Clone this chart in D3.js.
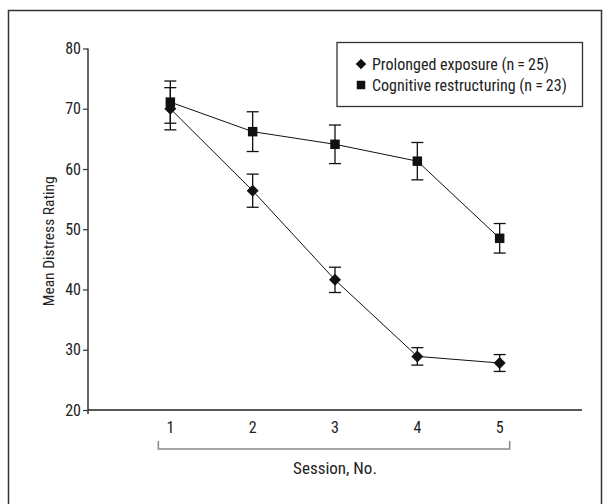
<!DOCTYPE html>
<html>
<head>
<meta charset="utf-8">
<script src="https://cdn.jsdelivr.net/npm/d3@7"></script>
<style>
  body { margin: 0; background: #fff; }
  text { font-family: "Liberation Sans Narrow", "Roboto Condensed", "Liberation Sans", sans-serif; fill: #222; }
</style>
</head>
<body>
<svg id="chart" width="610" height="504"></svg>
<script>
// data
var sessions = [1, 2, 3, 4, 5];
var yTicks = [20, 30, 40, 50, 60, 70, 80];

var peMean = [70.0, 56.4, 41.6, 28.9, 27.8];
var peErr  = [3.5, 2.75, 2.1, 1.45, 1.4];

var crMean = [71.1, 66.2, 64.1, 61.3, 48.5];
var crErr  = [3.5, 3.3, 3.2, 3.1, 2.45];

var seriesNames = ["Prolonged exposure (n\u2009=\u200925)", "Cognitive restructuring (n\u2009=\u200923)"];

var svg = d3.select("#chart");

// outer frame
svg.append("path")
    .attr("d", "M8.5,504 V10.5 H601.5 V504")
    .attr("fill", "none")
    .attr("stroke", "#333")
    .attr("stroke-width", 1.5);

// scales
var x = d3.scaleLinear().domain([0, 6]).range([88, 582]);
var y = d3.scaleLinear().domain([20, 80]).range([410, 48.5]);

// y axis
var yAxis = svg.append("g")
    .attr("transform", "translate(88,0)")
    .call(d3.axisLeft(y).tickValues(yTicks).tickSize(5).tickSizeOuter(0));
yAxis.select(".domain").attr("stroke", "#333").attr("stroke-width", 1.5)
    .attr("d", "M0," + y(80) + "V" + (y(20) + 4));
yAxis.selectAll(".tick line").attr("stroke", "#333").attr("stroke-width", 1.2);
yAxis.selectAll(".tick text").style("font-size", "16px").attr("x", -7);

// x axis line, labels only
svg.append("line")
    .attr("x1", 88).attr("x2", 582)
    .attr("y1", y(20)).attr("y2", y(20))
    .attr("stroke", "#222").attr("stroke-width", 1.5);

svg.selectAll(".xlab")
    .data(sessions)
    .enter().append("text")
    .attr("class", "xlab")
    .attr("x", d => x(d))
    .attr("y", 433)
    .attr("text-anchor", "middle")
    .style("font-size", "16px")
    .text(d => d);

// bracket under session labels
svg.append("path")
    .attr("d", "M" + (x(1) - 12) + ",441 V449 H" + (x(5) + 10) + " V441")
    .attr("fill", "none")
    .attr("stroke", "#888")
    .attr("stroke-width", 1.5);

svg.append("text")
    .attr("x", x(3))
    .attr("y", 474)
    .attr("text-anchor", "middle")
    .style("font-size", "17px")
    .text("Session, No.");

// y label
svg.append("text")
    .attr("transform", "translate(54," + y(48) + ") rotate(-90)")
    .attr("text-anchor", "middle")
    .style("font-size", "15.5px")
    .text("Mean Distress Rating");

// diamond = square turned 45 degrees
function marker(type, size) {
    return d3.symbol().type(type).size(size)();
}

// draws one series: line, error bars, markers
function drawSeries(means, errs, isDiamond, size) {
    var pts = sessions.map((s, i) => ({ s: s, m: means[i], e: errs[i] }));

    svg.append("path")
        .datum(pts)
        .attr("fill", "none")
        .attr("stroke", "#111")
        .attr("stroke-width", 1)
        .attr("d", d3.line().x(d => x(d.s)).y(d => y(d.m)));

    var eb = svg.append("g").selectAll("g")
        .data(pts).enter().append("g")
        .attr("stroke", "#111").attr("stroke-width", 1.3);
    eb.append("line")
        .attr("x1", d => x(d.s)).attr("x2", d => x(d.s))
        .attr("y1", d => y(d.m + d.e)).attr("y2", d => y(d.m - d.e));
    eb.append("line")
        .attr("x1", d => x(d.s) - 6).attr("x2", d => x(d.s) + 6)
        .attr("y1", d => y(d.m + d.e)).attr("y2", d => y(d.m + d.e));
    eb.append("line")
        .attr("x1", d => x(d.s) - 6).attr("x2", d => x(d.s) + 6)
        .attr("y1", d => y(d.m - d.e)).attr("y2", d => y(d.m - d.e));

    svg.append("g").selectAll("path")
        .data(pts).enter().append("path")
        .attr("transform", d => "translate(" + x(d.s) + "," + y(d.m) + ")" + (isDiamond ? " rotate(45)" : ""))
        .attr("d", marker(d3.symbolSquare, size))
        .attr("fill", "#111");
}

drawSeries(crMean, crErr, false, 90);
drawSeries(peMean, peErr, true, 72);

// legend
svg.append("rect")
    .attr("x", 337).attr("y", 42.5)
    .attr("width", 245.5).attr("height", 64)
    .attr("fill", "#fff")
    .attr("stroke", "#333").attr("stroke-width", 1.3);

var legendDiamond = [true, false];
var legendSizes = [56, 72];
seriesNames.forEach(function (name, i) {
    var ly = 64 + i * 21;
    svg.append("path")
        .attr("transform", "translate(361," + ly + ")" + (legendDiamond[i] ? " rotate(45)" : ""))
        .attr("d", marker(d3.symbolSquare, legendSizes[i]))
        .attr("fill", "#111");
    svg.append("text")
        .attr("x", 372)
        .attr("y", ly + 5.5)
        .style("font-size", "16px")
        .text(name);
});
</script>
</body>
</html>
